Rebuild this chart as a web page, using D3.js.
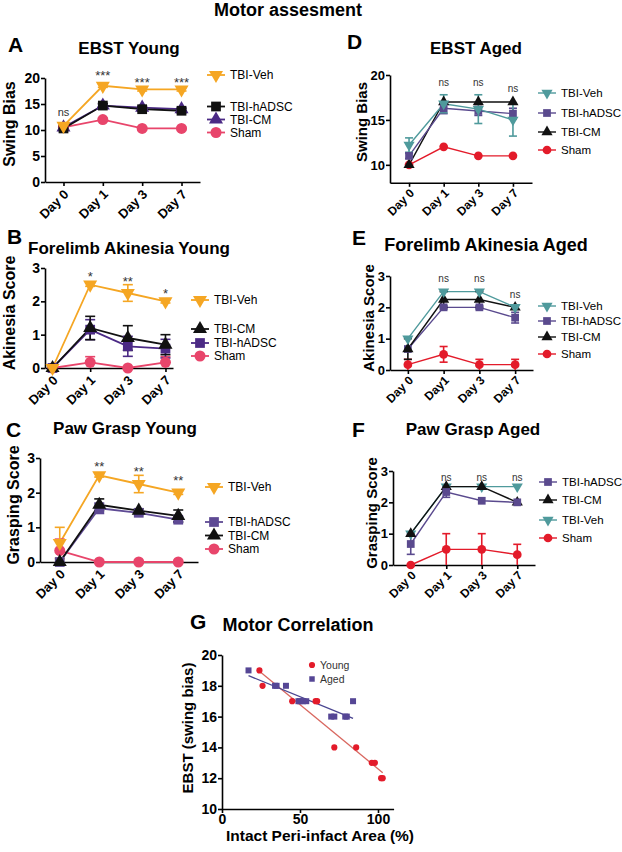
<!DOCTYPE html>
<html><head><meta charset="utf-8">
<script src="https://cdn.jsdelivr.net/npm/d3@7"></script>
<style>body{margin:0;background:#fff}</style>
</head><body>
<script>
// ---------------- DATA ----------------
const days = ["Day 0", "Day 1", "Day 3", "Day 7"];
const daysE = ["Day 0", "Day1", "Day 3", "Day 7"];

// A: EBST Young (swing bias)
const ebstYoungVeh   = [10.8, 18.5, 17.8, 17.8];
const ebstYoungVehErr = [0.4, 0.3, 0.3, 0.3];
const ebstYoungHadsc = [10.3, 14.7, 14.0, 13.7];
const ebstYoungHadscErr = [0.3, 0.4, 0.4, 0.4];
const ebstYoungCm    = [10.5, 14.7, 14.3, 14.0];
const ebstYoungCmErr = [0.3, 0.3, 0.3, 0.3];
const ebstYoungSham  = [10.5, 12.0, 10.3, 10.3];
const ebstYoungShamErr = [0.2, 0.2, 0.2, 0.2];
const ebstYoungSig = ["ns", "***", "***", "***"];
const ebstYoungSigY = [13.3, 21.1, 19.8, 19.8];

// B: Forelimb Akinesia Young
const akYoungVeh = [0, 2.5, 2.25, 2.0];
const akYoungVehErr = [0, 0.05, 0.25, 0.05];
const akYoungCm = [0, 1.2, 0.9, 0.7];
const akYoungCmErr = [0, 0.35, 0.37, 0.3];
const akYoungHadsc = [0, 1.15, 0.65, 0.58];
const akYoungHadscErr = [0, 0.3, 0.3, 0.28];
const akYoungSham = [0, 0.17, 0, 0.17];
const akYoungShamErr = [0, 0.17, 0, 0.17];
const akYoungSig = ["", "*", "**", "*"];
const akYoungSigY = [0, 2.85, 2.7, 2.34];

// C: Paw Grasp Young
const pgYoungVeh = [0.55, 2.5, 2.25, 2.0];
const pgYoungVehErr = [0.45, 0.05, 0.25, 0.05];
const pgYoungHadsc = [0, 1.55, 1.42, 1.22];
const pgYoungHadscErr = [0, 0.15, 0.05, 0.08];
const pgYoungCm = [0, 1.65, 1.48, 1.33];
const pgYoungCmErr = [0, 0.17, 0.05, 0.17];
const pgYoungSham = [0.33, 0, 0, 0];
const pgYoungShamErr = [0.33, 0, 0, 0];
const pgYoungSig = ["", "**", "**", "**"];
const pgYoungSigY = [0, 2.85, 2.71, 2.45];

// D: EBST Aged
const ebstAgedVeh = [12.2, 16.8, 16.2, 15.0];
const ebstAgedVehErr = [0.8, 1.0, 1.6, 1.8];
const ebstAgedHadsc = [11.0, 16.3, 16.0, 15.7];
const ebstAgedHadscErr = [0.3, 0.6, 0.5, 0.6];
const ebstAgedCm = [10.0, 17.0, 17.0, 17.0];
const ebstAgedCmErr = [0, 0, 0, 0];
const ebstAgedSham = [10.0, 12.0, 11.0, 11.0];
const ebstAgedShamErr = [0, 0, 0, 0];
const ebstAgedSig = ["", "ns", "ns", "ns"];
const ebstAgedSigY = [0, 19.1, 19.1, 18.4];

// E: Forelimb Akinesia Aged
const akAgedVeh = [1.0, 2.5, 2.5, 2.0];
const akAgedVehErr = [0, 0, 0, 0];
const akAgedHadsc = [0.67, 2.0, 2.0, 1.67];
const akAgedHadscErr = [0, 0.05, 0.05, 0.17];
const akAgedCm = [0.67, 2.25, 2.25, 2.0];
const akAgedCmErr = [0.33, 0.25, 0.25, 0];
const akAgedSham = [0.17, 0.5, 0.17, 0.17];
const akAgedShamErr = [0.17, 0.25, 0.17, 0.17];
const akAgedSig = ["", "ns", "ns", "ns"];
const akAgedSigY = [0, 2.9, 2.9, 2.4];

// F: Paw Grasp Aged
const pgAgedHadsc = [0.67, 2.33, 2.05, 2.0];
const pgAgedHadscErr = [0.33, 0.17, 0, 0];
const pgAgedCm = [1.0, 2.5, 2.5, 2.0];
const pgAgedCmErr = [0, 0, 0, 0];
const pgAgedVeh = [1.0, 2.5, 2.5, 2.5];
const pgAgedVehErr = [0, 0, 0, 0];
const pgAgedSham = [0, 0.5, 0.5, 0.33];
const pgAgedShamErr = [0, 0.5, 0.5, 0.33];
const pgAgedSig = ["", "ns", "ns", "ns"];
const pgAgedSigY = [0, 2.78, 2.78, 2.78];

// G: Motor correlation
const youngArea = [24, 26, 45, 60, 61, 72, 86, 96, 98, 102, 103];
const youngEbst = [19, 18, 17, 17, 17, 14, 14, 13, 13, 12, 12];
const agedArea  = [17, 34, 35, 41, 49, 50, 52, 54, 70, 72, 79, 80, 84];
const agedEbst  = [19, 18, 18, 18, 17, 17, 17, 17, 16, 16, 16, 16, 17];

const yTicksEbst = [0, 5, 10, 15, 20];
const yTicksEbstAged = [10, 15, 20];
const yTicksScore = [0, 1, 2, 3];
const gTicksX = [0, 50, 100];
const gTicksY = [10, 12, 14, 16, 18, 20];

// ---------------- STYLE ----------------
const FONT = "'Liberation Sans', Arial, Helvetica, sans-serif";
const ORANGE = "#F5A623", PURPLE = "#4B2A85", PURPLE2 = "#5E4A94", PINK = "#E8456B", BLACK = "#111";
const TEAL = "#4F9A9C", APURPLE = "#5A4A8E", RED = "#E31B2A";
const intFmt = d3.format("d");

const svg = d3.select("body").append("svg").attr("width", 622).attr("height", 852)
  .style("font-family", FONT);

function txt(x, y, s, fs, opts = {}) {
  const t = svg.append("text").attr("x", x).attr("y", y).text(s)
    .attr("font-size", fs).attr("font-weight", opts.bold ? "bold" : "normal")
    .attr("text-anchor", opts.anchor || "start").attr("fill", opts.fill || "#000");
  if (opts.rot) t.attr("transform", `rotate(${opts.rot},${x},${y})`);
  return t;
}

const shapes = {
  down: {type: d3.symbolTriangle, rot: 180},
  up: {type: d3.symbolTriangle, rot: 0},
  square: {type: d3.symbolSquare, rot: 0},
  circle: {type: d3.symbolCircle, rot: 0}
};

function marker(g, cx, cy, shape, size, color) {
  const s = shapes[shape];
  let sz = size;
  if (shape === "up" || shape === "down") sz = size * 0.9;
  g.append("path").attr("d", d3.symbol().type(s.type).size(sz)())
    .attr("transform", `translate(${cx},${cy}) rotate(${s.rot})`)
    .attr("fill", color);
}

function drawPanel(p) {
  const g = svg.append("g");
  const x = d3.scalePoint().domain(p.cats).range([p.x0, p.x1]).padding(p.pad);
  const y = d3.scaleLinear().domain(p.yDomain).range([p.yBottom, p.yTop]);

  const ya = g.append("g").attr("transform", `translate(${p.x0},0)`)
    .call(d3.axisLeft(y).tickValues(p.yTicks).tickFormat(intFmt).tickSize(4).tickSizeOuter(0).tickPadding(1));
  ya.attr("font-family", FONT).attr("font-size", p.tickFs).attr("font-weight", "bold");
  ya.select(".domain").attr("stroke", "#000").attr("stroke-width", 1.6);
  ya.selectAll(".tick line").attr("stroke", "#000").attr("stroke-width", 1.6);
  ya.selectAll(".tick text").attr("fill", "#000");

  const xa = g.append("g").attr("transform", `translate(0,${p.yBottom})`)
    .call(d3.axisBottom(x).tickSize(4).tickSizeOuter(0));
  xa.select(".domain").attr("stroke", "#000").attr("stroke-width", 1.6);
  xa.selectAll(".tick line").attr("stroke", "#000").attr("stroke-width", 1.6);
  xa.selectAll(".tick text").remove();
  p.cats.forEach(c => {
    const lx = x(c) + p.lblDx, ly = p.yBottom + p.lblDy;
    g.append("text").attr("x", lx).attr("y", ly).text(c)
      .attr("font-size", p.catFs).attr("font-weight", "bold").attr("text-anchor", "end")
      .attr("transform", `rotate(-45,${lx},${ly})`);
  });

  // series
  const line = d3.line().x((d, i) => x(p.cats[i])).y(d => y(d));
  p.series.forEach(s => {
    g.append("path").datum(s.vals).attr("d", line).attr("fill", "none")
      .attr("stroke", s.line || s.color).attr("stroke-width", p.lw);
  });
  p.series.forEach(s => {
    s.vals.forEach((v, i) => {
      const e = s.errs[i];
      if (e > 0) {
        const cx = x(p.cats[i]);
        g.append("line").attr("x1", cx).attr("x2", cx).attr("y1", y(v - e)).attr("y2", y(v + e))
          .attr("stroke", s.color).attr("stroke-width", 1.6);
        [v - e, v + e].forEach(ev => {
          if (ev > p.yDomain[0] + 1e-6)
            g.append("line").attr("x1", cx - p.cap).attr("x2", cx + p.cap).attr("y1", y(ev)).attr("y2", y(ev))
              .attr("stroke", s.color).attr("stroke-width", 1.6);
        });
      }
    });
  });
  p.series.forEach(s => {
    s.vals.forEach((v, i) => marker(g, x(p.cats[i]), y(v), s.shape, p.msize, s.color));
  });

  // significance
  p.sig.forEach((t, i) => {
    if (!t) return;
    const isStar = t[0] === "*";
    g.append("text").attr("x", x(p.cats[i])).attr("y", y(p.sigY[i]) + (isStar ? p.starFs * 0.6 : p.nsFs * 0.3))
      .text(t).attr("text-anchor", "middle").attr("fill", "#333")
      .attr("font-size", isStar ? p.starFs : p.nsFs);
  });

  // legend
  p.legend.forEach(l => {
    const s = p.series.find(d => d.name === l.name);
    g.append("line").attr("x1", p.legX - 9).attr("x2", p.legX + 9).attr("y1", l.y).attr("y2", l.y)
      .attr("stroke", s.line || s.color).attr("stroke-width", p.lw);
    marker(g, p.legX, l.y, s.shape, p.msize, s.color);
    g.append("text").attr("x", p.legX + 14).attr("y", l.y + p.legFs * 0.36).text(s.name)
      .attr("font-size", p.legFs);
  });

  // y label
  txt(p.ylabX, p.ylabY, p.ylab, p.ylabFs, {bold: true, anchor: "middle", rot: -90});
  // title + letter
  txt(p.titleX, p.titleY, p.title, p.titleFs, {bold: true, anchor: "middle"});
  txt(p.letterX, p.letterY, p.letter, 21, {bold: true});
}

// main title
txt(288, 16, "Motor assesment", 18, {bold: true, anchor: "middle"});

const leftBase = {tickFs: 14, catFs: 13, lblDx: 6, lblDy: 13, lw: 1.8, cap: 5, msize: 95,
  starFs: 13, nsFs: 11, legFs: 12, ylabFs: 16, titleFs: 17};
const rightBase = {tickFs: 13, catFs: 12, lblDx: 6, lblDy: 11, lw: 1.4, cap: 4, msize: 60,
  starFs: 12, nsFs: 10, legFs: 11.5, ylabFs: 15, titleFs: 17};

// A
drawPanel(Object.assign({}, leftBase, {
  cats: days, x0: 45, x1: 200, pad: 0.47, yDomain: [0, 20], yBottom: 182, yTop: 78, yTicks: yTicksEbst,
  series: [
    {name: "Sham", vals: ebstYoungSham, errs: ebstYoungShamErr, color: PINK, shape: "circle"},
    {name: "TBI-CM", vals: ebstYoungCm, errs: ebstYoungCmErr, color: PURPLE, shape: "up"},
    {name: "TBI-hADSC", vals: ebstYoungHadsc, errs: ebstYoungHadscErr, color: BLACK, shape: "square"},
    {name: "TBI-Veh", vals: ebstYoungVeh, errs: ebstYoungVehErr, color: ORANGE, shape: "down"}
  ],
  sig: ebstYoungSig, sigY: ebstYoungSigY,
  legX: 216, legend: [{name: "TBI-Veh", y: 75}, {name: "TBI-hADSC", y: 106.5}, {name: "TBI-CM", y: 119.5}, {name: "Sham", y: 132.5}],
  ylab: "Swing Bias", ylabX: 15, ylabY: 124, title: "EBST Young", titleX: 129, titleY: 54, letter: "A", letterX: 8, letterY: 52
}));

// B
drawPanel(Object.assign({}, leftBase, {
  cats: days, x0: 45, x1: 173, pad: 0.2, yDomain: [0, 3], yBottom: 368, yTop: 268, yTicks: yTicksScore,
  series: [
    {name: "Sham", vals: akYoungSham, errs: akYoungShamErr, color: PINK, shape: "circle"},
    {name: "TBI-hADSC", vals: akYoungHadsc, errs: akYoungHadscErr, color: PURPLE, shape: "square"},
    {name: "TBI-CM", vals: akYoungCm, errs: akYoungCmErr, color: BLACK, shape: "up"},
    {name: "TBI-Veh", vals: akYoungVeh, errs: akYoungVehErr, color: ORANGE, shape: "down"}
  ],
  sig: akYoungSig, sigY: akYoungSigY,
  legX: 200, legend: [{name: "TBI-Veh", y: 300}, {name: "TBI-CM", y: 329}, {name: "TBI-hADSC", y: 343}, {name: "Sham", y: 356}],
  ylab: "Akinesia Score", ylabX: 15, ylabY: 313, title: "Forelimb Akinesia Young", titleX: 129, titleY: 254, letter: "B", letterX: 7, letterY: 244
}));

// C
drawPanel(Object.assign({}, leftBase, {
  cats: days, x0: 40, x1: 198, pad: 0.5, yDomain: [0, 3], yBottom: 562, yTop: 458, yTicks: yTicksScore,
  series: [
    {name: "Sham", vals: pgYoungSham, errs: pgYoungShamErr, color: PINK, shape: "circle"},
    {name: "TBI-hADSC", vals: pgYoungHadsc, errs: pgYoungHadscErr, color: PURPLE2, shape: "square"},
    {name: "TBI-CM", vals: pgYoungCm, errs: pgYoungCmErr, color: BLACK, shape: "up"},
    {name: "TBI-Veh", vals: pgYoungVeh, errs: pgYoungVehErr, color: ORANGE, shape: "down"}
  ],
  sig: pgYoungSig, sigY: pgYoungSigY,
  legX: 214, legend: [{name: "TBI-Veh", y: 487}, {name: "TBI-hADSC", y: 522}, {name: "TBI-CM", y: 535.5}, {name: "Sham", y: 549}],
  ylab: "Grasping Score", ylabX: 19, ylabY: 505, title: "Paw Grasp Young", titleX: 125, titleY: 434, letter: "C", letterX: 6, letterY: 437
}));

// D
drawPanel(Object.assign({}, rightBase, {
  cats: days, x0: 390, x1: 532, pad: 0.55, yDomain: [8, 20], yBottom: 182.8, yTop: 75, yTicks: yTicksEbstAged,
  series: [
    {name: "Sham", vals: ebstAgedSham, errs: ebstAgedShamErr, color: RED, shape: "circle"},
    {name: "TBI-CM", vals: ebstAgedCm, errs: ebstAgedCmErr, color: BLACK, shape: "up"},
    {name: "TBI-hADSC", vals: ebstAgedHadsc, errs: ebstAgedHadscErr, color: APURPLE, shape: "square"},
    {name: "TBI-Veh", vals: ebstAgedVeh, errs: ebstAgedVehErr, color: TEAL, shape: "down"}
  ],
  sig: ebstAgedSig, sigY: ebstAgedSigY,
  legX: 547, legend: [{name: "TBI-Veh", y: 93}, {name: "TBI-hADSC", y: 113}, {name: "TBI-CM", y: 132}, {name: "Sham", y: 150}],
  ylab: "Swing Bias", ylabX: 367, ylabY: 122, title: "EBST Aged", titleX: 476, titleY: 54, letter: "D", letterX: 347, letterY: 49
}));

// E
drawPanel(Object.assign({}, rightBase, {
  cats: daysE, x0: 390, x1: 533, pad: 0.5, yDomain: [0, 3], yBottom: 370, yTop: 276, yTicks: yTicksScore,
  series: [
    {name: "Sham", vals: akAgedSham, errs: akAgedShamErr, color: RED, shape: "circle"},
    {name: "TBI-hADSC", vals: akAgedHadsc, errs: akAgedHadscErr, color: APURPLE, shape: "square"},
    {name: "TBI-CM", vals: akAgedCm, errs: akAgedCmErr, color: BLACK, shape: "up"},
    {name: "TBI-Veh", vals: akAgedVeh, errs: akAgedVehErr, color: TEAL, shape: "down"}
  ],
  sig: akAgedSig, sigY: akAgedSigY,
  legX: 547, legend: [{name: "TBI-Veh", y: 306}, {name: "TBI-hADSC", y: 321}, {name: "TBI-CM", y: 337}, {name: "Sham", y: 354}],
  ylab: "Akinesia Score", ylabX: 374, ylabY: 318, title: "Forelimb Akinesia Aged", titleX: 486, titleY: 251, titleFs: 18, letter: "E", letterX: 352, letterY: 245
}));

// F
drawPanel(Object.assign({}, rightBase, {
  cats: days, x0: 393, x1: 535, pad: 0.5, yDomain: [0, 3], yBottom: 565, yTop: 471, yTicks: yTicksScore,
  series: [
    {name: "Sham", vals: pgAgedSham, errs: pgAgedShamErr, color: RED, shape: "circle"},
    {name: "TBI-Veh", vals: pgAgedVeh, errs: pgAgedVehErr, color: TEAL, shape: "down"},
    {name: "TBI-CM", vals: pgAgedCm, errs: pgAgedCmErr, color: BLACK, shape: "up"},
    {name: "TBI-hADSC", vals: pgAgedHadsc, errs: pgAgedHadscErr, color: APURPLE, shape: "square"}
  ],
  sig: pgAgedSig, sigY: pgAgedSigY,
  legX: 548, legend: [{name: "TBI-hADSC", y: 482}, {name: "TBI-CM", y: 500}, {name: "TBI-Veh", y: 520}, {name: "Sham", y: 538}],
  ylab: "Grasping Score", ylabX: 377, ylabY: 513, title: "Paw Grasp Aged", titleX: 473, titleY: 435, letter: "F", letterX: 352, letterY: 437
}));

// G: Motor correlation
(function () {
  const g = svg.append("g");
  const x = d3.scaleLinear().domain([0, 110]).range([222, 393.6]);
  const y = d3.scaleLinear().domain([10, 20]).range([809, 655]);
  const ya = g.append("g").attr("transform", "translate(222,0)")
    .call(d3.axisLeft(y).tickValues(gTicksY).tickFormat(intFmt).tickSize(4).tickSizeOuter(0).tickPadding(1));
  ya.attr("font-family", FONT).attr("font-size", 14).attr("font-weight", "bold");
  ya.select(".domain").attr("stroke", "#000").attr("stroke-width", 1.6);
  ya.selectAll(".tick line").attr("stroke", "#000").attr("stroke-width", 1.6);
  ya.selectAll(".tick text").attr("fill", "#000");
  const xa = g.append("g").attr("transform", "translate(0,809)")
    .call(d3.axisBottom(x).tickValues(gTicksX).tickFormat(intFmt).tickSize(4).tickSizeOuter(0).tickPadding(1));
  xa.attr("font-family", FONT).attr("font-size", 14).attr("font-weight", "bold");
  xa.select(".domain").attr("stroke", "#000").attr("stroke-width", 1.6);
  xa.selectAll(".tick line").attr("stroke", "#000").attr("stroke-width", 1.6);
  xa.selectAll(".tick text").attr("fill", "#000");

  function fit(xs, ys) {
    const mx = d3.mean(xs), my = d3.mean(ys);
    const b = d3.sum(xs.map((v, i) => (v - mx) * (ys[i] - my))) / d3.sum(xs.map(v => (v - mx) ** 2));
    return {a: my - b * mx, b, min: d3.min(xs), max: d3.max(xs)};
  }
  const fy = fit(youngArea, youngEbst), fa = fit(agedArea, agedEbst);
  g.append("line").attr("x1", x(fy.min)).attr("x2", x(fy.max))
    .attr("y1", y(fy.a + fy.b * fy.min)).attr("y2", y(fy.a + fy.b * fy.max))
    .attr("stroke", "#D9675F").attr("stroke-width", 1.3);
  g.append("line").attr("x1", x(fa.min)).attr("x2", x(fa.max))
    .attr("y1", y(fa.a + fa.b * fa.min)).attr("y2", y(fa.a + fa.b * fa.max))
    .attr("stroke", "#4A4590").attr("stroke-width", 1.3);

  agedArea.forEach((v, i) => marker(g, x(v), y(agedEbst[i]), "square", 36, "#554695"));
  youngArea.forEach((v, i) => marker(g, x(v), y(youngEbst[i]), "circle", 30, "#E31B2A"));

  marker(g, 312, 665, "circle", 30, "#E31B2A");
  g.append("text").attr("x", 320).attr("y", 669).text("Young").attr("font-size", 10.5).attr("fill", "#333");
  marker(g, 312, 679, "square", 30, "#554695");
  g.append("text").attr("x", 320).attr("y", 683).text("Aged").attr("font-size", 10.5).attr("fill", "#333");

  txt(193, 728, "EBST (swing bias)", 15, {bold: true, anchor: "middle", rot: -90});
  txt(320, 841, "Intact Peri-infact Area (%)", 15.5, {bold: true, anchor: "middle"});
  txt(298, 631, "Motor Correlation", 18, {bold: true, anchor: "middle"});
  txt(190, 629, "G", 21, {bold: true});
})();
</script>
</body></html>
